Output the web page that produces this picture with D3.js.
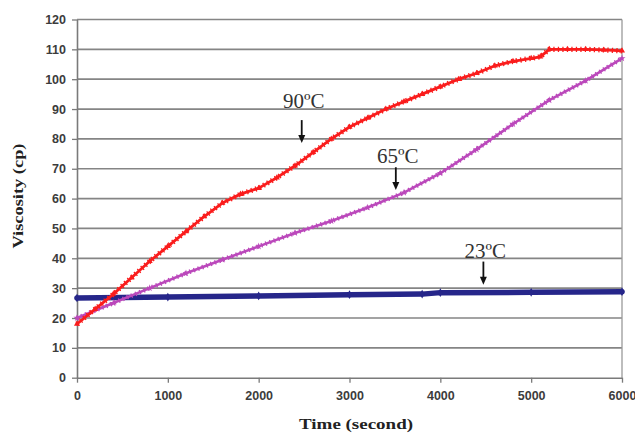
<!DOCTYPE html>
<html>
<head>
<meta charset="utf-8">
<script src="https://cdn.jsdelivr.net/npm/d3@7/dist/d3.min.js"></script>
<style>
    body { margin: 0; background: #fff; }
    svg { display: block; }
</style>
</head>
<body>
<svg id="chart" width="635" height="433"></svg>
<script>
    /*
    Values: time in seconds, viscosity in cp
     */
    var yTicks = [0, 10, 20, 30, 40, 50, 60, 70, 80, 90, 100, 110, 120];
    var xTicks = [0, 1000, 2000, 3000, 4000, 5000, 6000];

    var time90 = [0, 200, 400, 600, 800, 1000, 1200, 1400, 1600, 1800, 2000, 2200, 2400, 2600, 2800, 3000,
                  3200, 3400, 3600, 3800, 4000, 4200, 4400, 4600, 4800, 5000, 5100, 5200, 5400, 5600, 5800, 6000];
    var visc90 = [18, 23, 28, 33.5, 39, 44, 49, 54, 58.5, 61.5, 63.5, 67, 71, 75.5, 80, 84,
                  87, 90, 92.5, 95, 97.5, 100, 102, 104.5, 106, 107, 107.5, 110, 110, 110, 109.8, 109.5];

    var time65 = [0, 400, 800, 1200, 1600, 2000, 2400, 2800, 3200, 3600, 4000, 4400, 4800, 5200, 5600, 6000];
    var visc65 = [20, 25, 30, 35, 39.5, 44, 48.5, 52.5, 57, 62, 68.5, 76.5, 85, 93, 99.5, 107];

    var time23 = [0, 1000, 2000, 3000, 3800, 4000, 5000, 6000];
    var visc23 = [26.7, 27.0, 27.4, 27.8, 28.0, 28.5, 28.6, 28.8];

    // annotation labels: text, time of the arrow, viscosity of text baseline, arrow top and arrow tip
    var noteText = ["90ºC", "65ºC", "23ºC"];
    var noteTime = [2474, 3510, 4474];
    var noteBase = [90.4, 71.8, 40];
    var noteTop  = [86.3, 70.5, 38.9];
    var noteTip  = [78.6, 62.9, 31.1];

    var svg = d3.select("#chart");
    var plotLeft = 77, plotRight = 622, plotTop = 19.5, plotBottom = 377.7;

    var x = d3.scaleLinear().domain([0, 6000]).range([plotLeft, plotRight]);
    var y = d3.scaleLinear().domain([0, 120]).range([plotBottom, plotTop]);

    /*
    gridlines and the box on the right
     */
    svg.append("g").selectAll("line")
        .data(yTicks.filter(function(d){ return d > 0; }))
        .enter().append("line")
        .attr("x1", plotLeft).attr("x2", plotRight)
        .attr("y1", function(d){ return y(d); })
        .attr("y2", function(d){ return y(d); })
        .attr("stroke", "#858585")
        .attr("stroke-width", 1.7);

    svg.append("line")
        .attr("x1", plotRight).attr("x2", plotRight)
        .attr("y1", y(120)).attr("y2", y(0))
        .attr("stroke", "#9a9a9a")
        .attr("stroke-width", 1.3);

    /*
    axes
     */
    var yAxis = svg.append("g")
        .attr("transform", "translate(" + plotLeft + ",0)")
        .call(d3.axisLeft(y).tickValues(yTicks).tickSize(5).tickSizeOuter(0).tickPadding(6));

    var xAxis = svg.append("g")
        .attr("transform", "translate(0," + plotBottom + ")")
        .call(d3.axisBottom(x).tickValues(xTicks).tickSize(5).tickSizeOuter(0).tickPadding(8)
            .tickFormat(d3.format("d")));

    [yAxis, xAxis].forEach(function(ax){
        ax.select(".domain").attr("stroke", "#7a7a7a").attr("stroke-width", 1.6);
        ax.selectAll(".tick line").attr("stroke", "#7a7a7a").attr("stroke-width", 1.3);
        ax.selectAll(".tick text")
            .attr("fill", "#3c3c3c")
            .style("font-family", "'Liberation Sans', Arial, sans-serif")
            .style("font-weight", "bold")
            .style("font-size", "12.5px");
    });

    /*
    axis titles
     */
    svg.append("text")
        .attr("x", 356).attr("y", 429)
        .attr("text-anchor", "middle")
        .attr("textLength", 114)
        .attr("lengthAdjust", "spacingAndGlyphs")
        .style("font-family", "'Liberation Serif', 'Times New Roman', serif")
        .style("font-weight", "bold")
        .style("font-size", "15.5px")
        .attr("fill", "#222")
        .text("Time (second)");

    svg.append("text")
        .attr("transform", "translate(23,196) rotate(-90)")
        .attr("text-anchor", "middle")
        .attr("textLength", 105)
        .attr("lengthAdjust", "spacingAndGlyphs")
        .style("font-family", "'Liberation Serif', 'Times New Roman', serif")
        .style("font-weight", "bold")
        .style("font-size", "15.5px")
        .attr("fill", "#222")
        .text("Viscosity (cp)");

    /*
    drawSeries()
        Draw one series as a line with a serrated overlay (the dense markers
        of the original) and small markers at the read points
     */
    function drawSeries(times, values, color, width, serrate, symbol, size){
        var pts = times.map(function(t, i){ return [t, values[i]]; });
        var line = d3.line()
            .x(function(d){ return x(d[0]); })
            .y(function(d){ return y(d[1]); });

        svg.append("path")
            .datum(pts)
            .attr("d", line)
            .attr("fill", "none")
            .attr("stroke", color)
            .attr("stroke-width", width)
            .attr("stroke-linejoin", "round")
            .attr("stroke-linecap", "round");

        if(serrate > 0){
            svg.append("path")
                .datum(pts)
                .attr("d", line)
                .attr("fill", "none")
                .attr("stroke", color)
                .attr("stroke-width", width + serrate)
                .attr("stroke-dasharray", "1.3,3.2");
        }

        svg.append("g").selectAll("path")
            .data(pts)
            .enter().append("path")
            .attr("transform", function(d){ return "translate(" + x(d[0]) + "," + y(d[1]) + ")"; })
            .attr("d", d3.symbol().type(symbol).size(size))
            .attr("fill", color);
    }

    drawSeries(time23, visc23, "#26268a", 5.5, 0, d3.symbolDiamond, 22);
    drawSeries(time65, visc65, "#bb48bb", 2.6, 2, d3.symbolStar, 16);
    drawSeries(time90, visc90, "#fa1c1c", 2.8, 2.4, d3.symbolTriangle, 16);

    /*
    temperature notes with down arrows
     */
    noteText.forEach(function(txt, i){
        var ax = x(noteTime[i]);
        svg.append("text")
            .attr("x", ax + 2).attr("y", y(noteBase[i]))
            .attr("text-anchor", "middle")
            .style("font-family", "'Liberation Serif', 'Times New Roman', serif")
            .style("font-size", "21px")
            .attr("fill", "#333")
            .text(txt);

        svg.append("line")
            .attr("x1", ax).attr("x2", ax)
            .attr("y1", y(noteTop[i])).attr("y2", y(noteTip[i]) - 6)
            .attr("stroke", "#111")
            .attr("stroke-width", 1.8);

        var tip = y(noteTip[i]);
        svg.append("path")
            .attr("d", "M" + (ax - 3.5) + "," + (tip - 8) + "L" + (ax + 3.5) + "," + (tip - 8) + "L" + ax + "," + tip + "Z")
            .attr("fill", "#111");
    });
</script>
</body>
</html>
